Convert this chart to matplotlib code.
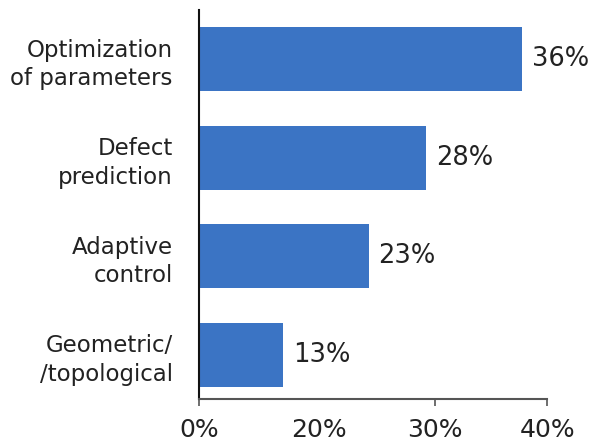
import matplotlib
matplotlib.use("Agg")
import matplotlib.pyplot as plt

# data
categories = ["Optimization\nof parameters", "Defect\nprediction", "Adaptive\ncontrol", "Geometric/\n/topological"]
shares = [36, 28, 23, 13]                  # printed value labels (%)
bar_lengths = [37.1, 26.1, 19.5, 9.7]      # drawn length in axis units
tick_labels = ["0%", "20%", "30%", "40%"]
tick_pos = [0, 13.8, 27.1, 40]

plt.rcParams['font.family'] = ['DejaVu Sans']

fig = plt.figure(figsize=(5.95, 4.48), dpi=100)
ax = fig.add_axes([0.3345, 0.1094, 0.585, 0.868])

ypos = list(range(len(categories)))
bars = ax.barh(ypos, bar_lengths, height=0.65, color="#3b74c4")

for b, v in zip(bars, shares):
    ax.annotate(f"{v}%", (b.get_width(), b.get_y() + b.get_height() / 2),
                xytext=(7, 0), textcoords="offset points",
                ha="left", va="center", fontsize=18.5, color="#222222")

ax.set_xlim(0, 40)
ax.set_ylim(3.45, -0.5)
ax.set_yticks(ypos)
ax.set_yticklabels(categories, fontsize=16.5, color="#222222",
                   multialignment="right", linespacing=1.3)
ax.tick_params(axis="y", length=0, pad=19)
ax.set_xticks(tick_pos)
ax.set_xticklabels(tick_labels, fontsize=18, color="#222222")
ax.tick_params(axis="x", length=5, width=1.2, color="#555555", pad=9)
ax.xaxis.get_major_ticks()[1].tick1line.set_visible(False)

ax.spines["top"].set_visible(False)
ax.spines["right"].set_visible(False)
ax.spines["bottom"].set_color("#555555")
ax.spines["bottom"].set_linewidth(1.5)
ax.spines["left"].set_color("#111111")
ax.spines["left"].set_linewidth(1.5)

fig.savefig("out.png", dpi=100)
